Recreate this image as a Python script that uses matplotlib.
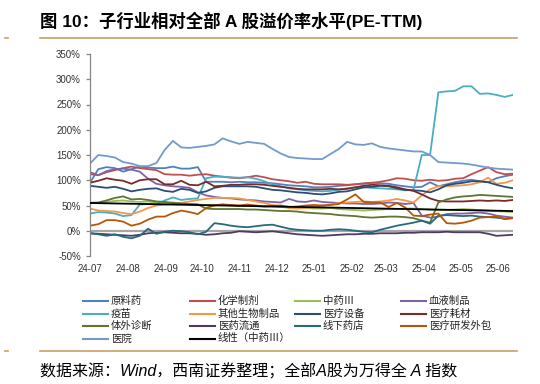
import numpy as np
import pandas as pd
import matplotlib
matplotlib.use('Agg')
import matplotlib.pyplot as plt
from matplotlib.lines import Line2D

# weekly observations, 2024-07 .. 2025-06 (premium vs. all A shares, %)
start_date = '2024-07-01'
end_date = '2025-06-13'
n_points = 52

yuanliaoyao = [95, 122, 126, 124, 117, 122, 127, 125, 124, 124, 127, 123, 123, 126, 97, 97, 97, 96, 97, 96,
               96, 95, 94, 92, 90, 89, 88, 86, 86, 87, 89, 90, 92, 93, 95, 94, 93, 90, 88, 86,
               87, 96, 88, 92, 96, 99, 101, 98, 96, 104, 108, 111]
huaxue = [112, 110, 116, 120, 124, 127, 124, 122, 120, 112, 111, 111, 109, 111, 112, 109, 107, 105, 104, 106,
          109, 106, 102, 100, 98, 95, 97, 93, 92, 92, 92, 91, 92, 94, 95, 97, 100, 104, 103, 100,
          99, 101, 99, 100, 103, 104, 112, 119, 126, 116, 112, 113]
zhongyao = [56, 55, 57, 59, 60, 58, 57, 58, 56, 55, 56, 54, 53, 52, 51, 51, 52, 50, 49, 50,
            49, 48, 48, 47, 46, 46, 45, 44, 44, 45, 43, 42, 41, 40, 41, 42, 43, 43, 44, 44,
            43, 42, 41, 41, 42, 43, 42, 41, 40, 39, 38, 37]
xueye = [116, 110, 118, 122, 123, 121, 117, 103, 93, 90, 88, 87, 85, 76, 70, 67, 65, 64, 62, 61,
         60, 58, 57, 56, 63, 58, 57, 60, 57, 56, 55, 54, 54, 53, 53, 54, 56, 55, 53, 55,
         30, 26, 28, 33, 34, 34, 35, 36, 34, 30, 28, 26]
yimiao = [34, 37, 36, 34, 29, 31, 52, 53, 52, 60, 66, 61, 63, 64, 104, 107, 107, 106, 105, 106,
          103, 98, 92, 88, 84, 82, 80, 79, 78, 79, 81, 84, 86, 86, 85, 84, 83, 82, 80, 81,
          150, 150, 274, 276, 277, 286, 286, 271, 272, 269, 265, 269]
qita_shengwu = [44, 40, 39, 38, 35, 33, 38, 45, 50, 52, 53, 55, 58, 61, 63, 65, 65, 65, 64, 61,
                58, 55, 51, 49, 45, 44, 45, 47, 50, 52, 55, 56, 57, 58, 57, 58, 60, 63, 60, 56,
                70, 82, 88, 88, 89, 90, 92, 96, 105, 93, 95, 100]
shebei = [89, 87, 85, 87, 83, 78, 81, 83, 84, 79, 77, 83, 81, 75, 78, 85, 88, 88, 88, 88,
          87, 84, 81, 80, 78, 76, 75, 73, 72, 74, 77, 78, 82, 86, 87, 89, 88, 84, 81, 80,
          79, 76, 82, 90, 93, 95, 98, 98, 96, 91, 87, 84]
haocai = [95, 99, 104, 101, 99, 93, 100, 102, 102, 92, 92, 99, 91, 90, 97, 88, 89, 91, 91, 92,
          92, 91, 89, 87, 85, 83, 82, 82, 82, 83, 82, 83, 86, 89, 91, 90, 89, 86, 82, 79,
          72, 64, 59, 58, 58, 58, 59, 60, 59, 60, 59, 61]
zhenduan = [55, 56, 60, 65, 68, 62, 63, 61, 58, 57, 55, 54, 53, 52, 44, 43, 43, 43, 43, 42,
            42, 41, 40, 39, 39, 38, 36, 35, 34, 33, 31, 30, 29, 27, 26, 27, 28, 28, 27, 25,
            20, 16, 56, 62, 66, 68, 69, 71, 70, 69, 68, 67]
liutong = [-5, -6, -7, -8, -9, -10, -8, -5, -4, -3, -4, -5, -5, -6, -8, -7, -5, -4, -1, -2,
           -3, -2, -1, -3, -5, -7, -8, -9, -10, -9, -8, -7, -7, -6, -6, -5, -5, -5, -4, -4,
           -3, -3, -3, -2, -3, -3, -3, -3, -6, -10, -9, -8]
yaodian = [-5, -7, -10, -7, -12, -15, -10, 4, -6, -2, 0, -1, -3, -7, -2, 15, 13, 10, 8, 7,
           9, 11, 12, 8, 4, 2, 1, 0, 0, 2, 3, 2, 0, -2, -3, 2, 6, 10, 13, 16,
           20, 14, 30, 31, 30, 29, 30, 28, 27, 26, 24, 25]
waibao = [10, 13, 21, 21, 18, 10, 14, 22, 28, 28, 35, 40, 37, 33, 45, 50, 52, 51, 50, 52,
          50, 48, 49, 50, 47, 48, 50, 51, 50, 51, 53, 62, 72, 57, 56, 56, 47, 55, 46, 30,
          29, 32, 34, 15, 14, 16, 20, 26, 27, 28, 23, 25]
yiyuan = [133, 150, 148, 145, 136, 133, 128, 128, 134, 160, 178, 165, 164, 166, 168, 171, 183, 177, 172, 176,
          174, 172, 162, 153, 146, 144, 143, 142, 142, 152, 162, 176, 171, 170, 173, 166, 163, 161, 159, 157,
          157, 150, 136, 135, 134, 133, 131, 128, 125, 123, 122, 121]
# linear trendline of 中药Ⅲ (start / end value)
trend_start = 55
trend_end = 39

series = [
    ('原料药', yuanliaoyao, '#4F81BD'),
    ('化学制剂', huaxue, '#C0504D'),
    ('中药Ⅲ', zhongyao, '#9BBB59'),
    ('血液制品', xueye, '#8064A2'),
    ('疫苗', yimiao, '#4BACC6'),
    ('其他生物制品', qita_shengwu, '#F79646'),
    ('医疗设备', shebei, '#2C4D75'),
    ('医疗耗材', haocai, '#772C2A'),
    ('体外诊断', zhenduan, '#5F7530'),
    ('医药流通', liutong, '#4D3B62'),
    ('线下药店', yaodian, '#276A7C'),
    ('医疗研发外包', waibao, '#B65708'),
    ('医院', yiyuan, '#729ACA'),
]
trend_label = '线性（中药Ⅲ）'

dates = pd.date_range(start_date, end_date, periods=n_points)
month_ticks = pd.date_range('2024-07-01', '2025-06-01', freq='MS')

W, H = 540, 384
mixed = ['Liberation Sans', 'Noto Sans CJK SC', 'DejaVu Sans']
plt.rcParams['font.family'] = mixed

fig = plt.figure(figsize=(W / 100, H / 100), dpi=100)
ax = fig.add_axes([90 / W, 1 - 256 / H, (513 - 90) / W, (256 - 54) / H])

ax.axhline(0, color='#A6A6A6', lw=1.6, zorder=1)
for name, vals, color in series:
    ax.plot(dates, vals, color=color, lw=1.3, zorder=2)
ax.plot([dates[0], dates[-1]], [trend_start, trend_end], color='black', lw=1.3, zorder=3)

ax.set_xlim(dates[0], dates[-1])
ax.set_ylim(-50, 350)
ax.set_yticks(np.arange(-50, 351, 50))
ax.set_yticklabels([f'{v}%' for v in range(-50, 351, 50)])
ax.set_xticks(month_ticks)
ax.set_xticklabels([d.strftime('%y-%m') for d in month_ticks])

for s in ['top', 'right', 'bottom']:
    ax.spines[s].set_visible(False)
ax.spines['left'].set_color('#868686')
ax.spines['left'].set_linewidth(0.9)
ax.tick_params(axis='y', length=3, width=0.9, color='#868686', pad=3.5,
               labelsize=7, labelcolor='#333333')
ax.tick_params(axis='x', length=0, pad=6, labelsize=7, labelcolor='#333333')
ax.set_facecolor('none')

# title and rules
fig.text(40 / W, 1 - 20.5 / H, '图 10：子行业相对全部 A 股溢价率水平(PE-TTM)',
         fontsize=12.5, fontweight='bold', va='center', ha='left', color='black')
gold = '#C9A063'
for yy in (38, 350.5):
    fig.add_artist(Line2D([40 / W, 517 / W], [1 - yy / H] * 2, color=gold, lw=1.2))
    fig.add_artist(Line2D([5 / W, 8 / W], [1 - yy / H] * 2, color=gold, lw=1.2))

# legend, 4 columns filled row by row
entries = [(n, c) for n, _, c in series] + [(trend_label, 'black')]
col_x = [83, 190, 295, 401]
row_y = [301, 313.5, 326, 338.5]
for k, (name, color) in enumerate(entries):
    r, c = divmod(k, 4)
    x0, y0 = col_x[c], row_y[r]
    fig.add_artist(Line2D([x0 / W, (x0 + 25) / W], [1 - y0 / H] * 2, color=color, lw=1.5))
    fig.text((x0 + 28) / W, 1 - y0 / H, name, fontsize=7.5, va='center', ha='left', color='#222222')

fig.text(40 / W, 1 - 371 / H, '数据来源：Wind，西南证券整理；全部A股为万得全 A 指数',
         fontsize=11.5, style='italic', va='center', ha='left', color='black')

fig.savefig('out.png', dpi=100)
